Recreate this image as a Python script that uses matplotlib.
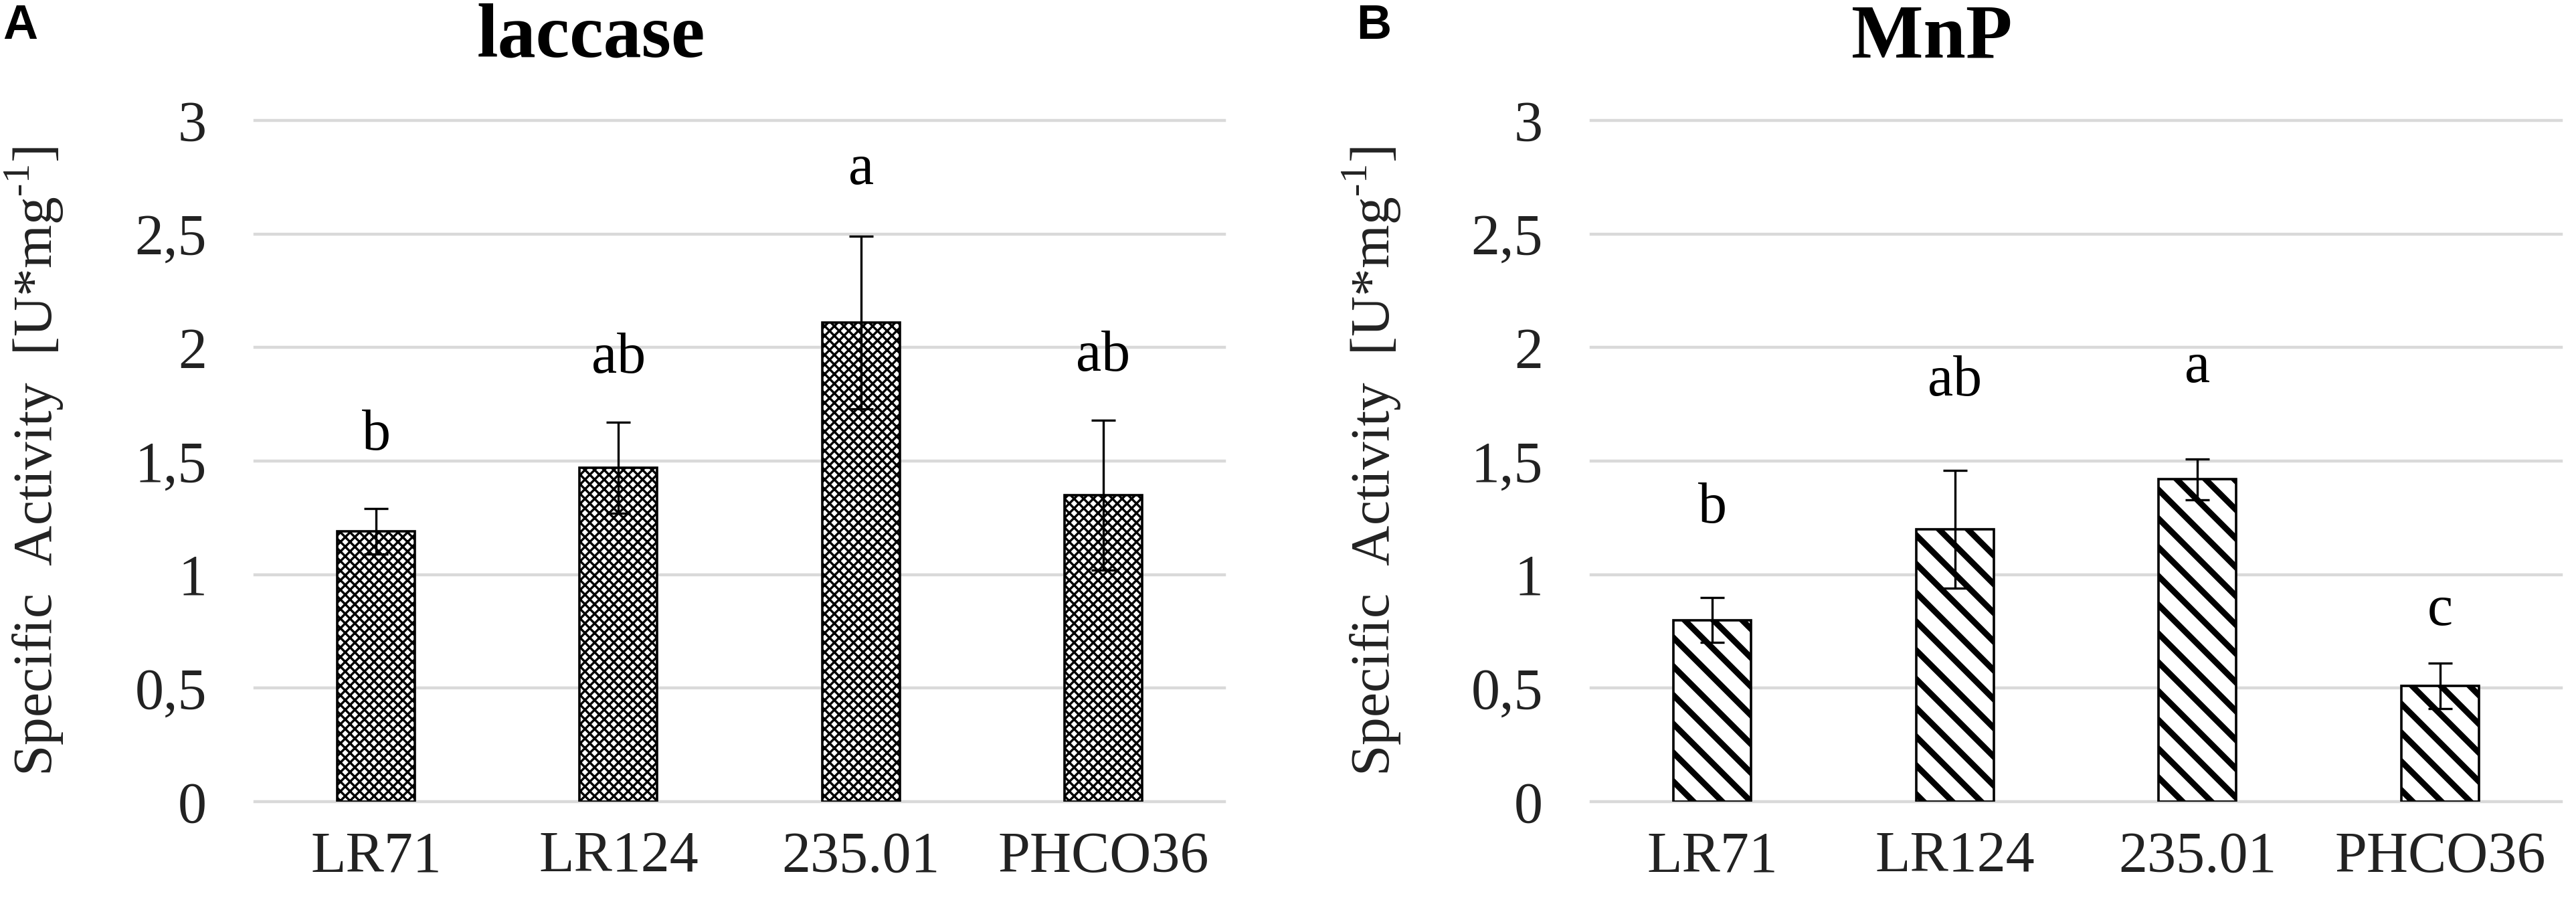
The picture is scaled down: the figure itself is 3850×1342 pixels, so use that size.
import matplotlib
matplotlib.use('Agg')
import matplotlib.pyplot as plt

# data
strains = ['LR71', 'LR124', '235.01', 'PHCO36']
laccase_mean = [1.19, 1.47, 2.11, 1.35]
laccase_err = [0.10, 0.20, 0.38, 0.33]
laccase_letters = ['b', 'ab', 'a', 'ab']
laccase_letter_y = [1.61, 1.95, 2.78, 1.96]

mnp_mean = [0.80, 1.20, 1.42, 0.51]
mnp_err = [0.10, 0.26, 0.09, 0.10]
mnp_letters = ['b', 'ab', 'a', 'c']
mnp_letter_y = [1.29, 1.85, 1.91, 0.84]

y_ticks = [0, 0.5, 1, 1.5, 2, 2.5, 3]
y_ticklabels = ['0', '0,5', '1', '1,5', '2', '2,5', '3']

plt.rcParams['font.family'] = ['Liberation Serif', 'DejaVu Serif']
plt.rcParams['mathtext.fontset'] = 'custom'
plt.rcParams['mathtext.rm'] = 'Liberation Serif'

# dpi dipilih supaya kerapatan hatch mirip aslinya
DPI = 258
k = 200 / DPI  # ukuran di bawah ditulis untuk dpi 200
W, H = 3850, 1342
fig = plt.figure(figsize=(W / DPI, H / DPI), dpi=DPI)

grid_col = '#d9d9d9'
tick_fs = 31 * k


def draw_panel(ax, means, errs, letters, letter_y, hatch, hatch_lw):
    x = list(range(len(strains)))
    plt.rcParams['hatch.linewidth'] = hatch_lw
    bars = ax.bar(x, means, width=0.32, color='white', edgecolor='black',
                  linewidth=1.3 * k, hatch=hatch, zorder=2)
    for b in bars:
        if hasattr(b, 'set_hatch_linewidth'):
            b.set_hatch_linewidth(hatch_lw)
    ax.errorbar(x, means, yerr=errs, fmt='none', ecolor='black',
                elinewidth=1.2 * k, capsize=6.6 * k, capthick=1.2 * k, zorder=3)
    for xi, lab, yy in zip(x, letters, letter_y):
        ax.text(xi, yy, lab, ha='center', va='center', fontsize=tick_fs)

    ax.set_xlim(-0.5, len(strains) - 0.5)
    ax.set_ylim(0, 3)
    ax.set_yticks(y_ticks)
    ax.set_yticklabels(y_ticklabels)
    ax.set_xticks(x)
    ax.set_xticklabels(strains)
    ax.tick_params(axis='y', length=0, pad=26 * k, labelsize=tick_fs, colors='#222222')
    ax.tick_params(axis='x', length=0, pad=16 * k, labelsize=tick_fs, colors='#222222')
    ax.grid(axis='y', color=grid_col, linewidth=1.6 * k)
    ax.set_axisbelow(True)
    for ln in ax.get_ygridlines():
        ln.set_clip_on(False)
    for s in ax.spines.values():
        s.set_visible(False)


ax1 = fig.add_axes([0.099, 0.1073, 0.3763, 0.7586])
draw_panel(ax1, laccase_mean, laccase_err, laccase_letters, laccase_letter_y, 'x' * 6, 0.95)

ax2 = fig.add_axes([0.6177, 0.1073, 0.3766, 0.7586])
draw_panel(ax2, mnp_mean, mnp_err, mnp_letters, mnp_letter_y, '\\\\', 2.5)

# judul panel
fig.text(0.2296, 1 - 85 / H, 'laccase', ha='center', va='baseline',
         fontsize=41 * k, fontweight='bold')
fig.text(0.7499, 1 - 85 / H, 'MnP', ha='center', va='baseline',
         fontsize=41 * k, fontweight='bold')

# huruf panel
fig.text(0.001, 1 - 58 / H, 'A', ha='left', va='baseline', fontsize=26 * k,
         fontweight='bold', family=['Liberation Sans', 'DejaVu Sans'])
fig.text(0.5265, 1 - 58 / H, 'B', ha='left', va='baseline', fontsize=26 * k,
         fontweight='bold', family=['Liberation Sans', 'DejaVu Sans'])

# label sumbu y
ylab = 'Specific  Activity  [U*mg$^{\\text{-1}}$]'
fig.text(0.0135, 0.4866, ylab, rotation=90, ha='center', va='center',
         fontsize=30 * k, color='#222222')
fig.text(0.5327, 0.4866, ylab, rotation=90, ha='center', va='center',
         fontsize=30 * k, color='#222222')

fig.savefig('out.png', dpi=DPI, facecolor='white')
